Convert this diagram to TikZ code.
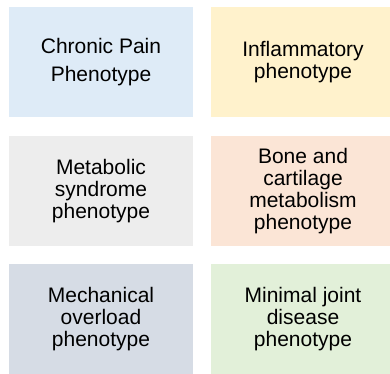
\documentclass[tikz,border=0pt]{standalone}
\usepackage{fontspec}
\setmainfont{Liberation Sans}
\definecolor{cblue}{HTML}{DEEBF7}
\definecolor{cyellow}{HTML}{FFF2CC}
\definecolor{cgray}{HTML}{EDEDED}
\definecolor{corange}{HTML}{FBE5D6}
\definecolor{cslate}{HTML}{D6DCE5}
\definecolor{cgreen}{HTML}{E2F0D9}
\begin{document}
\begin{tikzpicture}[x=1pt,y=-1pt,
  pbox/.style={draw=none, inner sep=0pt, align=center, text=black,
    font=\fontsize{21}{22}\selectfont},
  lbox/.style={pbox, minimum width=184pt, minimum height=110pt},
  rbox/.style={pbox, minimum width=184pt, minimum height=110pt}]
\useasboundingbox (0,0) rectangle (390,373);
\clip (0,0) rectangle (390,373);
\node[lbox, fill=cblue, font=\fontsize{21}{28}\selectfont] (pain) at (101,62) {Chronic Pain\\Phenotype};
\node[rbox, fill=cyellow] (infl) at (303,62) {Inflammatory\\phenotype};
\node[lbox, fill=cgray] (metab) at (101,191) {Metabolic\\syndrome\\phenotype};
\node[rbox, fill=corange] (bone) at (303,191) {Bone and\\cartilage\\metabolism\\phenotype};
\node[lbox, fill=cslate] (mech) at (101,319) {Mechanical\\overload\\phenotype};
\node[rbox, fill=cgreen] (minj) at (303,319) {Minimal joint\\disease\\phenotype};
\end{tikzpicture}
\end{document}
